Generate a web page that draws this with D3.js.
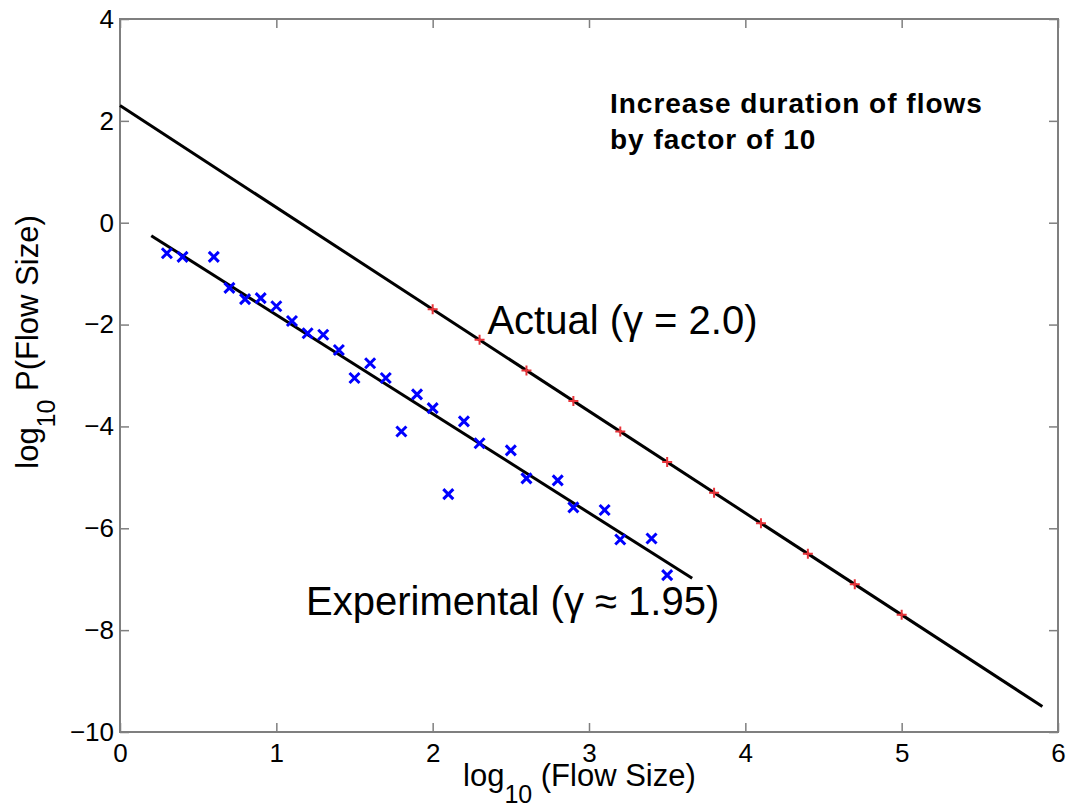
<!DOCTYPE html>
<html>
<head>
<meta charset="utf-8">
<script src="https://cdn.jsdelivr.net/npm/d3@7"></script>
<style>
  body { margin: 0; background: #fff; }
  svg text { font-family: "Liberation Sans", Arial, Helvetica, sans-serif; }
</style>
</head>
<body>
<div id="chart"></div>
<script>
// experimental points (blue x)
var expX = [0.3, 0.4, 0.6, 0.7, 0.8, 0.9, 1.0, 1.1, 1.2, 1.3, 1.4, 1.5, 1.6, 1.7, 1.8, 1.9, 2.0, 2.1, 2.2, 2.3, 2.5, 2.6, 2.8, 2.9, 3.1, 3.2, 3.4, 3.5];
var expY = [-0.6, -0.67, -0.67, -1.28, -1.5, -1.48, -1.64, -1.93, -2.17, -2.2, -2.5, -3.05, -2.76, -3.05, -4.1, -3.37, -3.64, -5.33, -3.9, -4.33, -4.47, -5.02, -5.06, -5.59, -5.64, -6.22, -6.2, -6.92];

// actual points (red)
var actX = [2.0, 2.3, 2.6, 2.9, 3.2, 3.5, 3.8, 4.1, 4.4, 4.7, 5.0];
var actY = [-1.7, -2.3, -2.9, -3.5, -4.1, -4.7, -5.3, -5.9, -6.5, -7.1, -7.7];

// fitted lines (end points)
var actualLine = [[0, 2.3], [5.9, -9.5]];
var expLine = [[0.2, -0.255], [3.66, -6.98]];

var xTicks = [0, 1, 2, 3, 4, 5, 6];
var yTicks = [-10, -8, -6, -4, -2, 0, 2, 4];

var W = 1070, H = 809;
var margin = { top: 19, right: 12, bottom: 77, left: 120 };

var svg = d3.select("#chart").append("svg")
    .attr("width", W)
    .attr("height", H);

var x = d3.scaleLinear().domain([0, 6]).range([margin.left, W - margin.right]);
var y = d3.scaleLinear().domain([-10, 4]).range([H - margin.bottom, margin.top]);

var frameColor = "#7f7f7f";

// axes, ticks pointing inward like matlab
var gx = svg.append("g")
    .attr("transform", "translate(0," + y(-10) + ")")
    .call(d3.axisBottom(x).tickValues(xTicks).tickSizeInner(-9).tickSizeOuter(0).tickPadding(12).tickFormat(d3.format("d")));
var gxTop = svg.append("g")
    .attr("transform", "translate(0," + y(4) + ")")
    .call(d3.axisTop(x).tickValues(xTicks).tickSizeInner(-9).tickSizeOuter(0).tickFormat(""));
var gy = svg.append("g")
    .attr("transform", "translate(" + x(0) + ",0)")
    .call(d3.axisLeft(y).tickValues(yTicks).tickSizeInner(-9).tickSizeOuter(0).tickPadding(6).tickFormat(d3.format("d")));
var gyRight = svg.append("g")
    .attr("transform", "translate(" + x(6) + ",0)")
    .call(d3.axisRight(y).tickValues(yTicks).tickSizeInner(-9).tickSizeOuter(0).tickFormat(""));

[gx, gxTop, gy, gyRight].forEach(function(g) {
    g.select(".domain").remove();
    g.selectAll(".tick line").attr("stroke", frameColor).attr("stroke-width", 1.5);
    g.selectAll(".tick text").attr("fill", "#000").style("font-size", "26px");
});

// the box
svg.append("rect")
    .attr("x", x(0))
    .attr("y", y(4))
    .attr("width", x(6) - x(0))
    .attr("height", y(-10) - y(4))
    .attr("fill", "none")
    .attr("stroke", frameColor)
    .attr("stroke-width", 2);

var line = d3.line()
    .x(function(d) { return x(d[0]); })
    .y(function(d) { return y(d[1]); });

svg.append("path")
    .datum(actualLine)
    .attr("d", line)
    .attr("fill", "none")
    .attr("stroke", "#000")
    .attr("stroke-width", 3);

svg.append("path")
    .datum(expLine)
    .attr("d", line)
    .attr("fill", "none")
    .attr("stroke", "#000")
    .attr("stroke-width", 3);

// red markers
var actData = actX.map(function(v, i) { return [v, actY[i]]; });
svg.append("g").selectAll("path")
    .data(actData)
    .enter().append("path")
    .attr("transform", function(d) { return "translate(" + x(d[0]) + "," + y(d[1]) + ")"; })
    .attr("d", "M-5,0H5M0,-5V5")
    .attr("stroke", "#e8343a")
    .attr("stroke-width", 2);

// blue x markers
var expData = expX.map(function(v, i) { return [v, expY[i]]; });
svg.append("g").selectAll("path")
    .data(expData)
    .enter().append("path")
    .attr("transform", function(d) { return "translate(" + x(d[0]) + "," + y(d[1]) + ")"; })
    .attr("d", "M-5,-5L5,5M-5,5L5,-5")
    .attr("stroke", "#0000ff")
    .attr("stroke-width", 3);

// annotations
svg.append("text")
    .attr("x", x(2.35))
    .attr("y", y(-2.185))
    .style("font-size", "40px")
    .text("Actual (\u03b3 = 2.0)");

svg.append("text")
    .attr("x", x(1.19))
    .attr("y", y(-7.70))
    .style("font-size", "40px")
    .text("Experimental (\u03b3 \u2248 1.95)");

var note = svg.append("text")
    .attr("x", x(3.134))
    .attr("y", y(2.154))
    .style("font-size", "28px")
    .style("letter-spacing", "1px")
    .style("font-weight", "bold");
note.append("tspan").text("Increase duration of flows");
note.append("tspan").attr("x", x(3.134)).attr("dy", 36).text("by factor of 10");

// axis titles
var xl = svg.append("text")
    .attr("x", 463)
    .attr("y", 786)
    .style("font-size", "31px");
xl.append("tspan").text("log");
xl.append("tspan").attr("dy", 17).style("font-size", "25px").text("10");
xl.append("tspan").attr("dy", -17).text(" (Flow Size)");

var yl = svg.append("text")
    .attr("transform", "translate(38,342) rotate(-90)")
    .attr("text-anchor", "middle")
    .style("font-size", "31px");
yl.append("tspan").text("log");
yl.append("tspan").attr("dy", 17).style("font-size", "25px").text("10");
yl.append("tspan").attr("dy", -17).text(" P(Flow Size)");
</script>
</body>
</html>
